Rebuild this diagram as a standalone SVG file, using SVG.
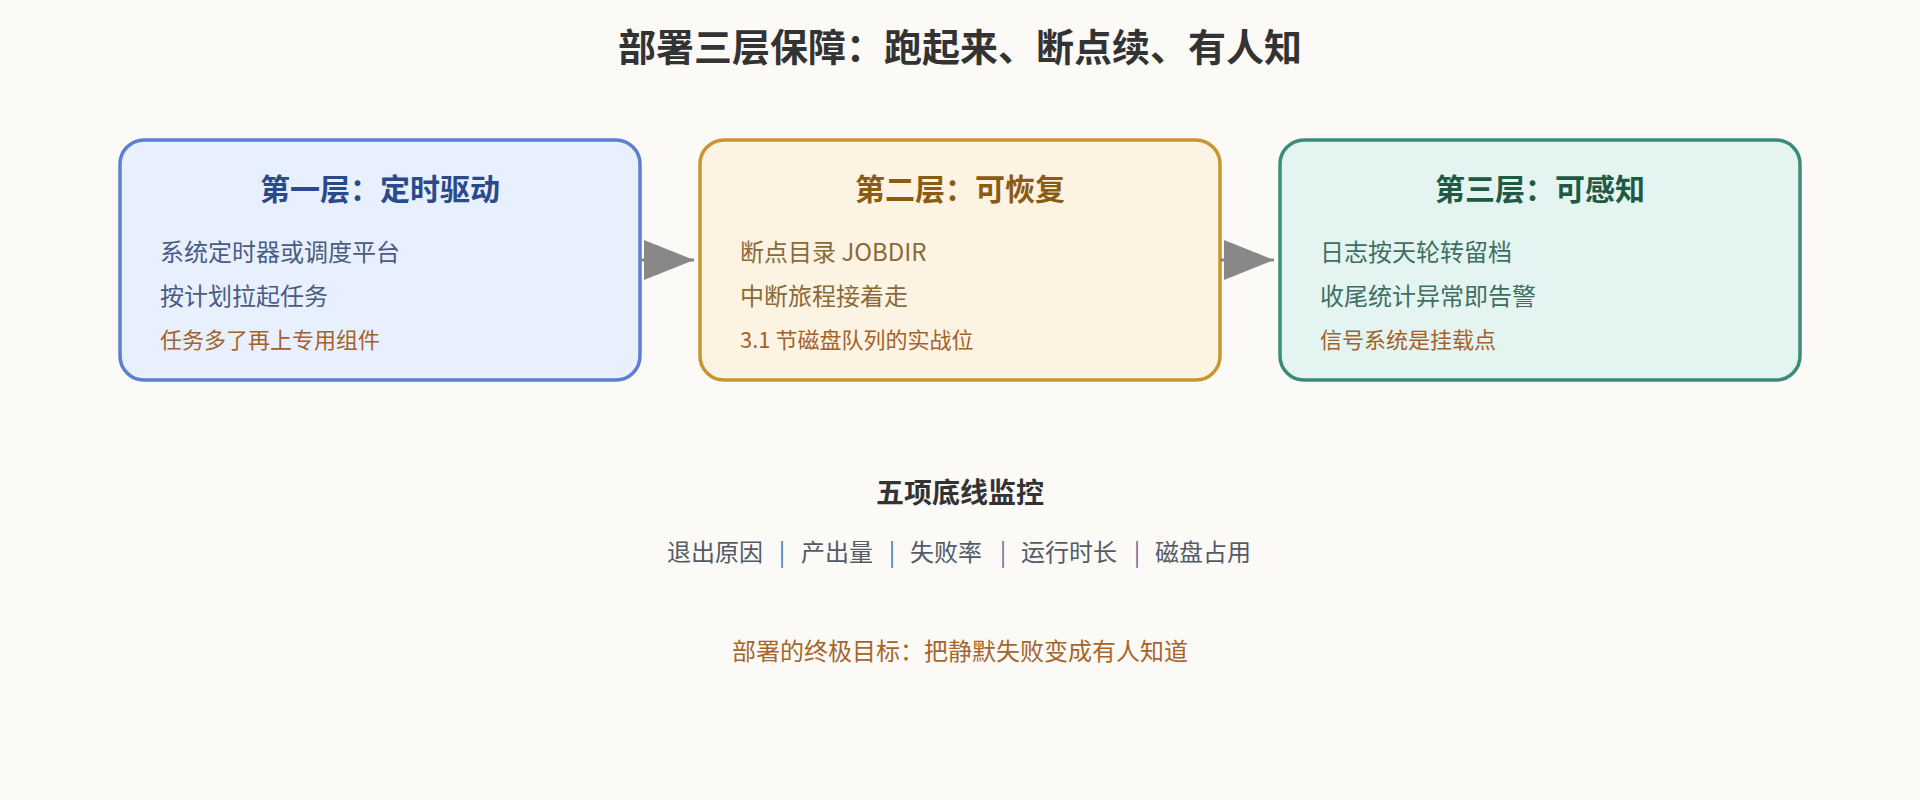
<svg xmlns="http://www.w3.org/2000/svg" width="1920" height="800" viewBox="0 0 1920 800">
  <style>
    text { font-family: "Noto Sans CJK SC", "Noto Sans", sans-serif; }
    .title { font-size: 38px; font-weight: 700; fill: #333333; }
    .box { stroke-width: 3.5; }
    .head { font-size: 30px; font-weight: 700; text-anchor: middle; }
    .body { font-size: 24px; }
    .note { font-size: 22px; fill: #a5612a; }
    .sub { font-size: 28px; font-weight: 700; fill: #333333; text-anchor: middle; }
    .metric { font-size: 24px; fill: #555a66; }
    .sep { font-size: 24px; fill: #5d72a8; text-anchor: middle; }
    .goal { font-size: 24px; fill: #a8652a; text-anchor: middle; }
    .conn { stroke: #888888; stroke-width: 3; fill: none; }
  </style>
  <defs>
    <marker id="arrow" markerUnits="userSpaceOnUse" markerWidth="50" markerHeight="40" refX="50" refY="20" orient="auto">
      <path d="M0,0 L50,20 L0,40 Z" fill="#888888"/>
    </marker>
  </defs>
  <rect width="1920" height="800" fill="#fbfaf7"/>
  <text class="title" x="960" y="61" text-anchor="middle">部署三层保障：跑起来、断点续、有人知</text>

  <g id="layer1">
    <rect class="box" x="120" y="140" width="520" height="240" rx="24" fill="#e8f0fd" stroke="#5b80d2"/>
    <text class="head" x="380" y="200" fill="#2b4a8c">第一层：定时驱动</text>
    <text class="body" x="160" y="261" fill="#4a5b85">系统定时器或调度平台</text>
    <text class="body" x="160" y="305" fill="#4a5b85">按计划拉起任务</text>
    <text class="note" x="160" y="348">任务多了再上专用组件</text>
  </g>

  <g id="layer2">
    <rect class="box" x="700" y="140" width="520" height="240" rx="24" fill="#fdf3e3" stroke="#c9952f"/>
    <text class="head" x="960" y="200" fill="#8a5c12">第二层：可恢复</text>
    <text class="body" x="740" y="261" fill="#8a6a38">断点目录 JOBDIR</text>
    <text class="body" x="740" y="305" fill="#8a6a38">中断旅程接着走</text>
    <text class="note" x="740" y="348">3.1 节磁盘队列的实战位</text>
  </g>

  <g id="layer3">
    <rect class="box" x="1280" y="140" width="520" height="240" rx="24" fill="#e4f4f0" stroke="#3a8c78"/>
    <text class="head" x="1540" y="200" fill="#1f5a45">第三层：可感知</text>
    <text class="body" x="1320" y="261" fill="#3f6e62">日志按天轮转留档</text>
    <text class="body" x="1320" y="305" fill="#3f6e62">收尾统计异常即告警</text>
    <text class="note" x="1320" y="348">信号系统是挂载点</text>
  </g>

  <g id="connectors">
    <line class="conn" x1="640" y1="260" x2="694" y2="260" marker-end="url(#arrow)"/>
    <line class="conn" x1="1220" y1="260" x2="1274" y2="260" marker-end="url(#arrow)"/>
  </g>

  <g id="monitoring">
    <text class="sub" x="960" y="503">五项底线监控</text>
    <text class="metric" y="561"><tspan x="667">退出原因</tspan><tspan x="801">产出量</tspan><tspan x="910">失败率</tspan><tspan x="1021">运行时长</tspan><tspan x="1155">磁盘占用</tspan></text>
    <text class="sep" x="782" y="561">|</text>
    <text class="sep" x="892" y="561">|</text>
    <text class="sep" x="1003" y="561">|</text>
    <text class="sep" x="1137" y="561">|</text>
  </g>

  <text class="goal" x="960" y="660">部署的终极目标：把静默失败变成有人知道</text>
</svg>
